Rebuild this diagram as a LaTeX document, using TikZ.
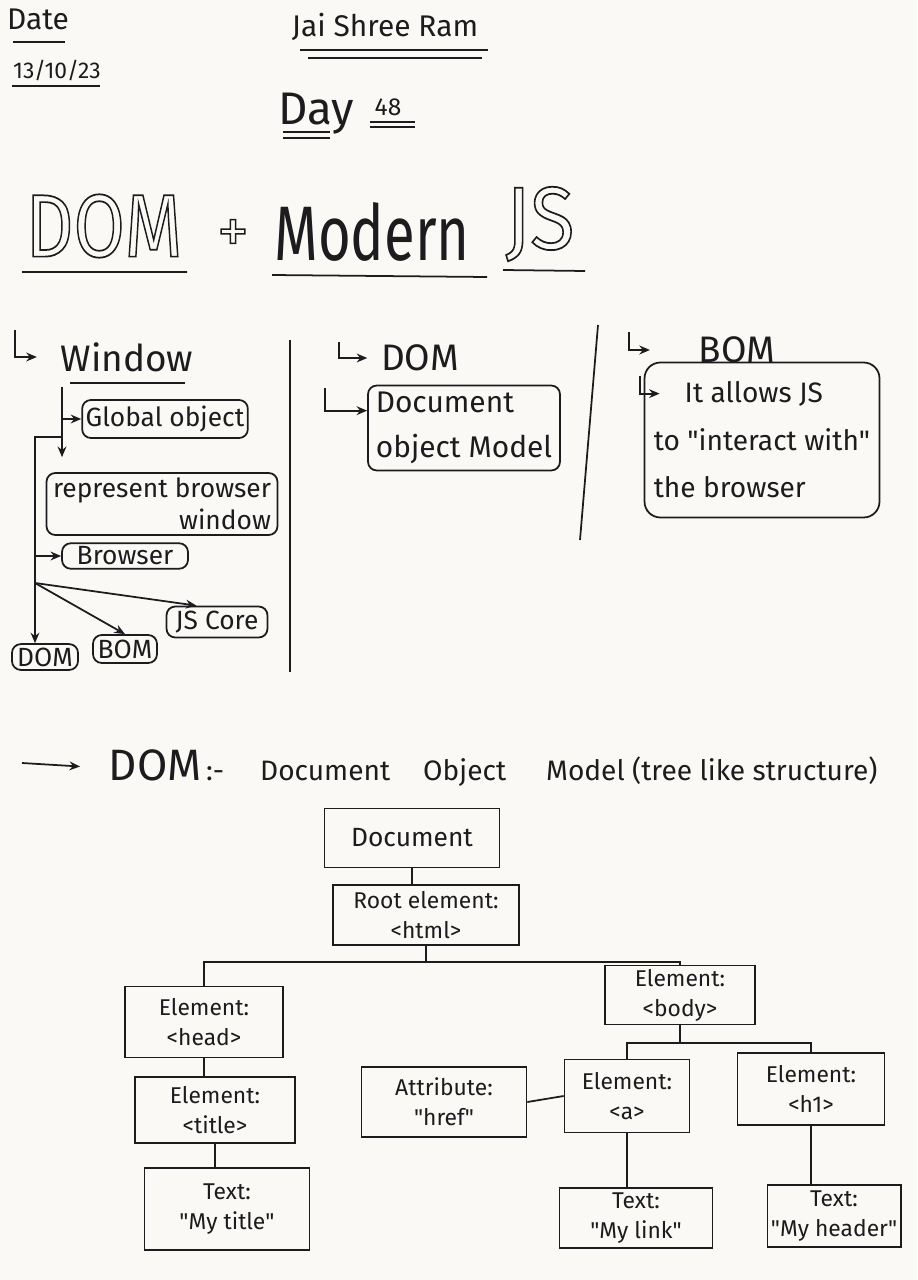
\documentclass[tikz,border=0pt]{standalone}
\usepackage{fontspec}
\setmainfont{Fira Sans}
\usepackage{graphicx}
\usetikzlibrary{positioning,arrows.meta,calc}

\definecolor{paper}{RGB}{250,249,246}
\definecolor{ink}{RGB}{28,28,30}

\newcommand{\fsz}[2]{\fontsize{#1}{#2}\selectfont}
\newcommand{\qt}{\textquotedbl}
% hollow (outlined) letters for the title
\newcommand{\hollow}[1]{\special{pdf:literal direct 1 Tr 0.9 w}#1\special{pdf:literal direct 0 Tr}}

\tikzset{
  pen/.style={line width=1pt, draw=ink},
  tip/.style={-{Stealth[length=6pt,width=5pt]}},
  rbox/.style={draw=ink, line width=1pt, rounded corners=5pt, align=center, inner sep=2pt, text=ink, font=\fsz{15}{18}},
  tbox/.style={draw=ink, line width=1pt, align=center, inner sep=2pt, text=ink, font=\fsz{13}{17}},
  lbl/.style={text=ink, inner sep=2pt},
}

\begin{document}
\begin{tikzpicture}[x=0.02cm,y=-0.02cm]
\fill[paper] (0,0) rectangle (917,1280);
\useasboundingbox (0,0) rectangle (917,1280);

% page header
\node[lbl] (date) at (38,19) {\fsz{17}{20}Date};
\draw[pen] (13,42) -- (65,42);
\node[lbl] (dd) at (57,70) {\fsz{13}{16}13/10/23};
\draw[pen] (12,86) -- (100,86);
\node[lbl] (jsr) at (385,27) {\fsz{17}{20}Jai Shree Ram};
\draw[pen] (300,50) -- (488,50) (308,58) -- (482,58);
\node[lbl] (day) at (316,114) {\fsz{26}{30}Day};
\node[lbl] (num) at (388,107) {\fsz{14}{16}48};
\draw[pen] (283,132) -- (330,132) (283,138) -- (330,138) (370,122) -- (415,122) (370,127) -- (415,127);

% title
\node[lbl] (tdom) at (104,226) {\fsz{46}{46}\scalebox{0.92}[1.1]{\hollow{DOM}}};
\node[lbl] (plus) at (233,236) {\fsz{36}{36}\hollow{+}};
\node[lbl] (tmod) at (372,232) {\fsz{40}{40}\scalebox{0.8}[1.1]{Modern}};
\node[lbl] (tjs) at (540,224) {\fsz{46}{46}\scalebox{1}[1.1]{\hollow{JS}}};
\draw[pen] (22,272) -- (187,272) (272,275) -- (487,277) (503,270) -- (585,271);

% column 1: window
\node[lbl] (win) at (127,357) {\fsz{21}{24}Window};
\draw[pen] (70,383) -- (185,383);
\coordinate (hk1) at (15,330);
\draw[pen,tip,shorten >=4mm] (hk1) |- (win.west);

\node[rbox,minimum width=3cm,minimum height=0.76cm] (glob) at (165,419) {Global object};
\node[rbox,align=right,minimum width=4.62cm,minimum height=1.24cm] (repr) at (162,504) {represent browser\\window};
\node[rbox,minimum width=2.52cm,minimum height=0.5cm] (brow) at (125,556) {Browser};
\node[rbox,minimum width=2.02cm,minimum height=0.62cm] (jsc) at (217,622) {JS Core};
\node[rbox,minimum width=1.28cm,minimum height=0.56cm] (bomw) at (125,649) {BOM};
\node[rbox,minimum width=1.32cm,minimum height=0.46cm] (domw) at (45,657) {DOM};

\coordinate (wt) at (62,387);
\draw[pen,tip,shorten >=3mm] (wt) -- (wt |- repr.north);
\draw[pen,tip] (wt |- glob.west) -- (glob.west);
\coordinate (wk) at (62,437);
\coordinate (wl) at (35,437);
\draw[pen,tip] (wk) -- (wl) -- (wl |- domw.north);
\draw[pen,tip] (wl |- brow.west) -- (brow.west);
\coordinate (wf) at (35,583);
\draw[pen,tip] (wf) -- (bomw.north);
\draw[pen,tip] (wf) -- ($(jsc.north)!0.4!(jsc.north west)$);

\draw[pen] (290,340) -- (290,672);
\draw[pen] (598,325) -- (580,540);

% column 2: DOM
\node[lbl] (dom2) at (420,358) {\fsz{21}{24}DOM};
\coordinate (hd1) at (339,342);
\draw[pen,tip,shorten >=2mm] (hd1) |- (dom2.west);
\node[rbox,align=left,minimum width=3.84cm,minimum height=1.7cm,font=\fsz{17}{26}] (dmodel) at (464,428) {Document\\object Model};
\coordinate (hd2) at (325,388);
\draw[pen,tip] (hd2) |- ($(dmodel.north west)!0.3!(dmodel.south west)$);

% column 3: BOM
\node[lbl] (bom3) at (737,350) {\fsz{21}{24}BOM};
\coordinate (hb1) at (629,332);
\draw[pen,tip,shorten >=9mm] (hb1) |- (bom3.west);
\node[rbox,rounded corners=9pt,align=left,minimum width=4.7cm,minimum height=3.1cm,font=\fsz{16}{27}] (bomtxt) at (762,440) {\hspace*{1.1em}It allows JS\\to \qt interact with\qt\\the browser};
\coordinate (hb2) at ($(bomtxt.north west)+(-4,14)$);
\coordinate (hb3) at ($(hb2)+(20,18)$);
\draw[pen,tip] (hb2) |- (hb3);

% DOM tree
\node[lbl,anchor=west,font=\fsz{16}{20}] (dhead) at (105,768) {{\fsz{25}{28}DOM}\,:-\hspace{0.72cm}Document\hspace{0.66cm}Object\hspace{0.8cm}Model (tree like structure)};
\coordinate (ha) at (22,763);
\draw[pen,tip,shorten >=5mm] (ha) -- (dhead.west);

\node[tbox,minimum width=3.5cm,minimum height=1.18cm,font=\fsz{15}{18}] (doc) at (412,838) {Document};
\node[tbox,minimum width=3.72cm,minimum height=1.2cm] (root) at (426,915) {Root element:\\<html>};
\node[tbox,minimum width=3.16cm,minimum height=1.42cm] (head) at (204,1022) {Element:\\<head>};
\node[tbox,minimum width=3.2cm,minimum height=1.32cm] (title) at (215,1110) {Element:\\<title>};
\node[tbox,minimum width=3.3cm,minimum height=1.64cm] (ttext) at (227,1209) {Text:\\\qt My title\qt};
\node[tbox,minimum width=3.3cm,minimum height=1.4cm] (attr) at (444,1102) {Attribute:\\\qt href\qt};
\node[tbox,minimum width=3cm,minimum height=1.1cm] (body) at (680,995) {Element:\\<body>};
\node[tbox,minimum width=2.5cm,minimum height=1.46cm] (aa) at (627,1096) {Element:\\<a>};
\node[tbox,minimum width=2.94cm,minimum height=1.44cm] (hone) at (811,1089) {Element:\\<h1>};
\node[tbox,minimum width=3.06cm,minimum height=1.2cm] (ltext) at (636,1218) {Text:\\\qt My link\qt};
\node[tbox,minimum width=2.56cm,minimum height=1.24cm] (htext) at (834,1216) {Text:\\\qt My header\qt};

\foreach \a/\b in {doc/root,head/title,title/ttext,aa/ltext,hone/htext} {
  \draw[pen] (\a.south) -- (\a.south |- \b.north);
}
\coordinate (rb) at (0,962);
\draw[pen] (root.south) -- (root.south |- rb);
\draw[pen] (head.north) -- (head.north |- rb) -- (body.north |- rb) -- (body.north);
\coordinate (bb) at (0,1043);
\draw[pen] (body.south) -- (body.south |- bb);
\draw[pen] (aa.north) -- (aa.north |- bb) -- (hone.north |- bb) -- (hone.north);
\draw[pen] (attr.east) -- (aa.west);
\end{tikzpicture}
\end{document}
